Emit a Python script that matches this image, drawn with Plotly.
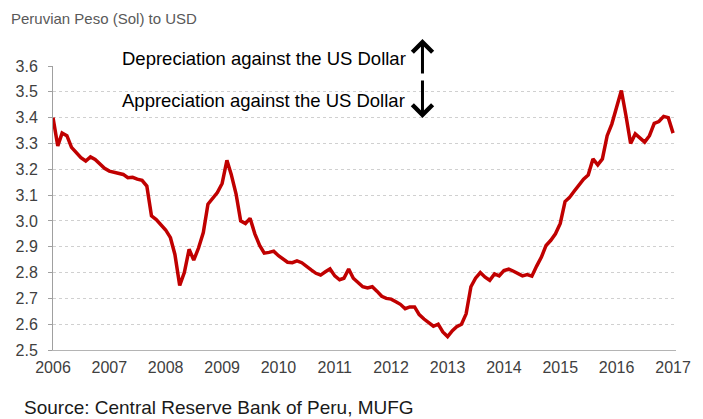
import plotly.graph_objects as go
import pandas as pd

# Monthly PEN per USD, Jan 2006 .. Jan 2017
start_month = "2006-01-01"
pen_usd = [
    3.40, 3.29, 3.34, 3.33, 3.285, 3.265, 3.245, 3.232, 3.248, 3.238, 3.22, 3.204,   # 2006
    3.193, 3.188, 3.185, 3.18, 3.167, 3.169, 3.162, 3.157, 3.135, 3.02, 3.005, 2.985,  # 2007
    2.965, 2.935, 2.87, 2.75, 2.80, 2.89, 2.848, 2.895, 2.955, 3.065, 3.09, 3.11,      # 2008
    3.145, 3.235, 3.18, 3.105, 3.00, 2.99, 3.01, 2.95, 2.905, 2.875, 2.878, 2.883,     # 2009
    2.865, 2.85, 2.84, 2.838, 2.845, 2.838, 2.826, 2.81, 2.797, 2.79, 2.803, 2.814,    # 2010
    2.787, 2.772, 2.778, 2.814, 2.778, 2.76, 2.745, 2.74, 2.745, 2.728, 2.708, 2.70,   # 2011
    2.697, 2.687, 2.677, 2.66, 2.667, 2.667, 2.637, 2.62, 2.605, 2.592, 2.60, 2.57,    # 2012
    2.552, 2.575, 2.59, 2.60, 2.64, 2.745, 2.778, 2.80, 2.782, 2.77, 2.795, 2.787,     # 2013
    2.808, 2.813, 2.806, 2.797, 2.787, 2.792, 2.786, 2.825, 2.86, 2.905, 2.925, 2.95,  # 2014
    2.99, 3.075, 3.09, 3.115, 3.14, 3.162, 3.178, 3.24, 3.217, 3.24, 3.33, 3.375,      # 2015
    3.44, 3.505, 3.41, 3.30, 3.337, 3.322, 3.305, 3.33, 3.378, 3.385, 3.405, 3.40,     # 2016
    3.34,                                                                              # 2017
]
dates = pd.date_range(start_month, periods=len(pen_usd), freq="MS")

year_ticks = [f"{y}-01-01" for y in range(2006, 2018)]
year_labels = [str(y) for y in range(2006, 2018)]
y_ticks = [2.5, 2.6, 2.7, 2.8, 2.9, 3.0, 3.1, 3.2, 3.3, 3.4, 3.5, 3.6]
y_labels = [f"{v:.1f}" for v in y_ticks]

title_text = "Peruvian Peso (Sol) to USD"
dep_text = "Depreciation against the US Dollar"
app_text = "Appreciation against the US Dollar"
source_text = "Source: Central Reserve Bank of Peru, MUFG"

FONT = "Liberation Sans, Arial, sans-serif"

fig = go.Figure()
fig.add_trace(go.Scatter(
    x=dates, y=pen_usd, mode="lines",
    line=dict(color="#c00000", width=3.5),
    hoverinfo="skip", showlegend=False,
))

W, H = 703, 419
L, R, T, B = 53, 16, 66, 69

fig.update_layout(
    width=W, height=H,
    margin=dict(l=L, r=R, t=T, b=B, pad=0),
    paper_bgcolor="white", plot_bgcolor="white",
    font=dict(family=FONT, size=16, color="#404040"),
    xaxis=dict(
        range=["2006-01-01", "2017-01-20"],
        tickmode="array", tickvals=year_ticks, ticktext=year_labels,
        showgrid=False, showline=True, linecolor="#b4b4b4", linewidth=1,
        ticks="", ticklabelstandoff=3, tickfont=dict(size=16, color="#404040"),
        zeroline=False,
    ),
    yaxis=dict(
        range=[2.5, 3.6],
        tickmode="array", tickvals=y_ticks, ticktext=y_labels,
        showgrid=True, gridcolor="#d0d0d0", griddash="dot", gridwidth=1,
        showline=True, linecolor="#a0a0a0", linewidth=1,
        ticks="outside", ticklen=4, tickcolor="#a0a0a0",
        ticklabelstandoff=7,
        tickfont=dict(size=16, color="#404040"),
        zeroline=False,
    ),
)

def px_x(px):
    return (px - L) / (W - L - R)

def px_y(py):
    return (H - B - py) / (H - T - B)

# white box that interrupts gridlines behind the annotation texts
fig.add_shape(type="rect", xref="paper", yref="paper",
              x0=px_x(100), x1=px_x(440), y0=px_y(122), y1=px_y(30),
              fillcolor="white", line=dict(width=0), layer="between")

fig.add_annotation(text=title_text, xref="paper", yref="paper",
                   x=px_x(8), y=px_y(18), xanchor="left", yanchor="middle",
                   showarrow=False, font=dict(size=15, color="#595959", family=FONT))
fig.add_annotation(text=dep_text, xref="paper", yref="paper",
                   x=px_x(121), y=px_y(59), xanchor="left", yanchor="middle",
                   showarrow=False, font=dict(size=18.5, color="#000000", family=FONT))
fig.add_annotation(text=app_text, xref="paper", yref="paper",
                   x=px_x(121), y=px_y(101), xanchor="left", yanchor="middle",
                   showarrow=False, font=dict(size=18.5, color="#000000", family=FONT))
# arrows
fig.add_annotation(xref="paper", yref="paper", x=px_x(429), y=px_y(39),
                   ax=0, ay=36, showarrow=True, arrowhead=4, arrowsize=1.3,
                   arrowwidth=3, arrowcolor="#000000", text="")
fig.add_annotation(xref="paper", yref="paper", x=px_x(429), y=px_y(118),
                   ax=0, ay=-39, showarrow=True, arrowhead=4, arrowsize=1.3,
                   arrowwidth=3, arrowcolor="#000000", text="")
fig.add_annotation(text=source_text, xref="paper", yref="paper",
                   x=px_x(21), y=px_y(407), xanchor="left", yanchor="middle",
                   showarrow=False, font=dict(size=19, color="#1a1a1a", family=FONT))

fig.write_html("out.html", config={"displayModeBar": False},
               post_script="document.body.style.margin='0';")
